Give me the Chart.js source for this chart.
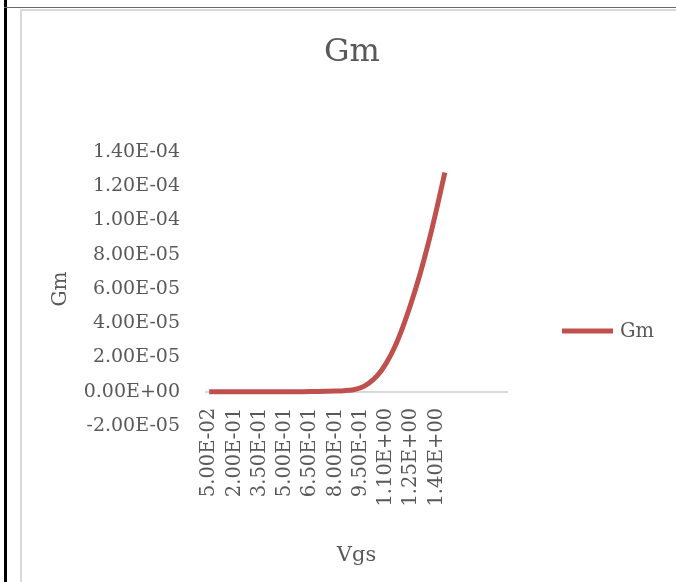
<!DOCTYPE html>
<html lang="en">
<head>
  <meta charset="UTF-8" />
  <title>Gm</title>
  <script src="https://cdn.jsdelivr.net/npm/chart.js"></script>
  <style>
    html, body {
      margin: 0;
      background: #ffffff;
    }
    .frame-left {
      position: absolute;
      left: 4px; top: 0;
      width: 3px; height: 582px;
      background: #000000;
    }
    .frame-top {
      position: absolute;
      left: 4px; top: 7px;
      width: 672px; height: 1px;
      background: #6b6b6b;
    }
    .chart-box {
      position: absolute;
      left: 20px; top: 9px;
      width: 654px; height: 571px;
      border-left: 2px solid #d9d9d9;
      border-top: 2px solid #d9d9d9;
    }
  </style>
</head>
<body>
  <div class="frame-left"></div>
  <div class="frame-top"></div>
  <div class="chart-box">
    <canvas id="grafica" width="654" height="571"></canvas>
  </div>

  <script>
    // Vgs values that have data (V)
    const vgs = [0.05, 0.10, 0.15, 0.20, 0.25, 0.30, 0.35, 0.40, 0.45, 0.50,
                 0.55, 0.60, 0.65, 0.70, 0.75, 0.80, 0.85, 0.90, 0.95, 1.00,
                 1.05, 1.10, 1.15, 1.20, 1.25, 1.30, 1.35, 1.40, 1.45];
    // the axis also carries a few blank rows after the data
    const blankRows = 7;
    // Gm (S)
    const gm = [0, 0, 0, 0, 0, 0, 0, 1e-9, 3e-9, 1e-8,
                2e-8, 4e-8, 8e-8, 1.5e-7, 2.5e-7, 4e-7, 6e-7, 1.0e-6, 2.3e-6, 5.1e-6,
                9.5e-6, 1.64e-5, 2.57e-5, 3.78e-5, 5.2e-5, 6.79e-5, 8.6e-5, 1.063e-4, 1.28e-4];
    const yTicks = { min: -2e-5, max: 1.4e-4, step: 2e-5 };

    const textColor = '#595959';
    const fontFamily = "'DejaVu Serif', serif";

    // Excel style 0.00E+00
    function sci(v) {
      if (Math.abs(v) < 1e-15) v = 0;
      const parts = Number(v).toExponential(2).split('e');
      const e = parseInt(parts[1], 10);
      return parts[0] + 'E' + (e < 0 ? '-' : '+') + String(Math.abs(e)).padStart(2, '0');
    }

    const labels = vgs.map(sci).concat(Array(blankRows).fill(''));

    // chart title centred on the whole box, legend off to the right (Excel layout)
    const excelBits = {
      id: 'excelBits',
      afterDraw(chart) {
        const ctx = chart.ctx;
        const ds = chart.data.datasets[0];
        ctx.save();
        ctx.fillStyle = textColor;
        ctx.textAlign = 'center';
        ctx.textBaseline = 'middle';
        ctx.font = "32px " + fontFamily;
        ctx.fillText('Gm', chart.width / 2 + 3, 42);

        const x = 540, y = 320;
        ctx.strokeStyle = ds.borderColor;
        ctx.lineWidth = 5;
        ctx.beginPath();
        ctx.moveTo(x, y);
        ctx.lineTo(x + 51, y);
        ctx.stroke();
        ctx.textAlign = 'left';
        ctx.font = "19.5px " + fontFamily;
        ctx.fillText(ds.label, x + 58, y + 1);
        ctx.restore();
      }
    };

    new Chart(document.getElementById('grafica'), {
      type: 'line',
      data: {
        labels: labels,
        datasets: [{
          label: 'Gm',
          data: gm,
          borderColor: '#C0504D',
          backgroundColor: '#C0504D',
          borderWidth: 5,
          pointRadius: 0,
          cubicInterpolationMode: 'monotone',
          borderCapStyle: 'butt'
        }]
      },
      options: {
        responsive: false,
        animation: false,
        layout: { padding: { left: 0, right: 168, top: 141, bottom: 156 } },
        plugins: {
          legend: { display: false },
          tooltip: { enabled: false },
          title: { display: false }
        },
        scales: {
          x: {
            position: { y: 0 },
            offset: true,
            grid: { display: false, drawTicks: false },
            border: { display: false },
            ticks: {
              autoSkip: false,
              minRotation: 90,
              maxRotation: 90,
              padding: 16,
              color: textColor,
              font: { family: fontFamily, size: 19.5 },
              callback: function (val, i) { return i % 3 === 0 ? this.getLabelForValue(val) : ''; }
            },
            title: {
              display: true,
              text: 'Vgs',
              color: textColor,
              font: { family: fontFamily, size: 21 },
              padding: { top: 0, bottom: 14 }
            },
            afterFit: function (s) { s.height = 190; }
          },
          y: {
            min: yTicks.min,
            max: yTicks.max,
            ticks: {
              stepSize: yTicks.step,
              padding: 25,
              color: textColor,
              font: { family: fontFamily, size: 19 },
              callback: v => sci(v)
            },
            grid: {
              drawTicks: false,
              color: c => (c.tick && Math.abs(c.tick.value) < 1e-15) ? '#d9d9d9' : 'rgba(0,0,0,0)',
              lineWidth: 2
            },
            border: { display: false },
            title: {
              display: true,
              text: 'Gm',
              color: textColor,
              font: { family: fontFamily, size: 20 },
              padding: { top: 27, bottom: 0 }
            },
            afterFit: function (s) { s.width = 183; }
          }
        }
      },
      plugins: [excelBits]
    });
  </script>
</body>
</html>
